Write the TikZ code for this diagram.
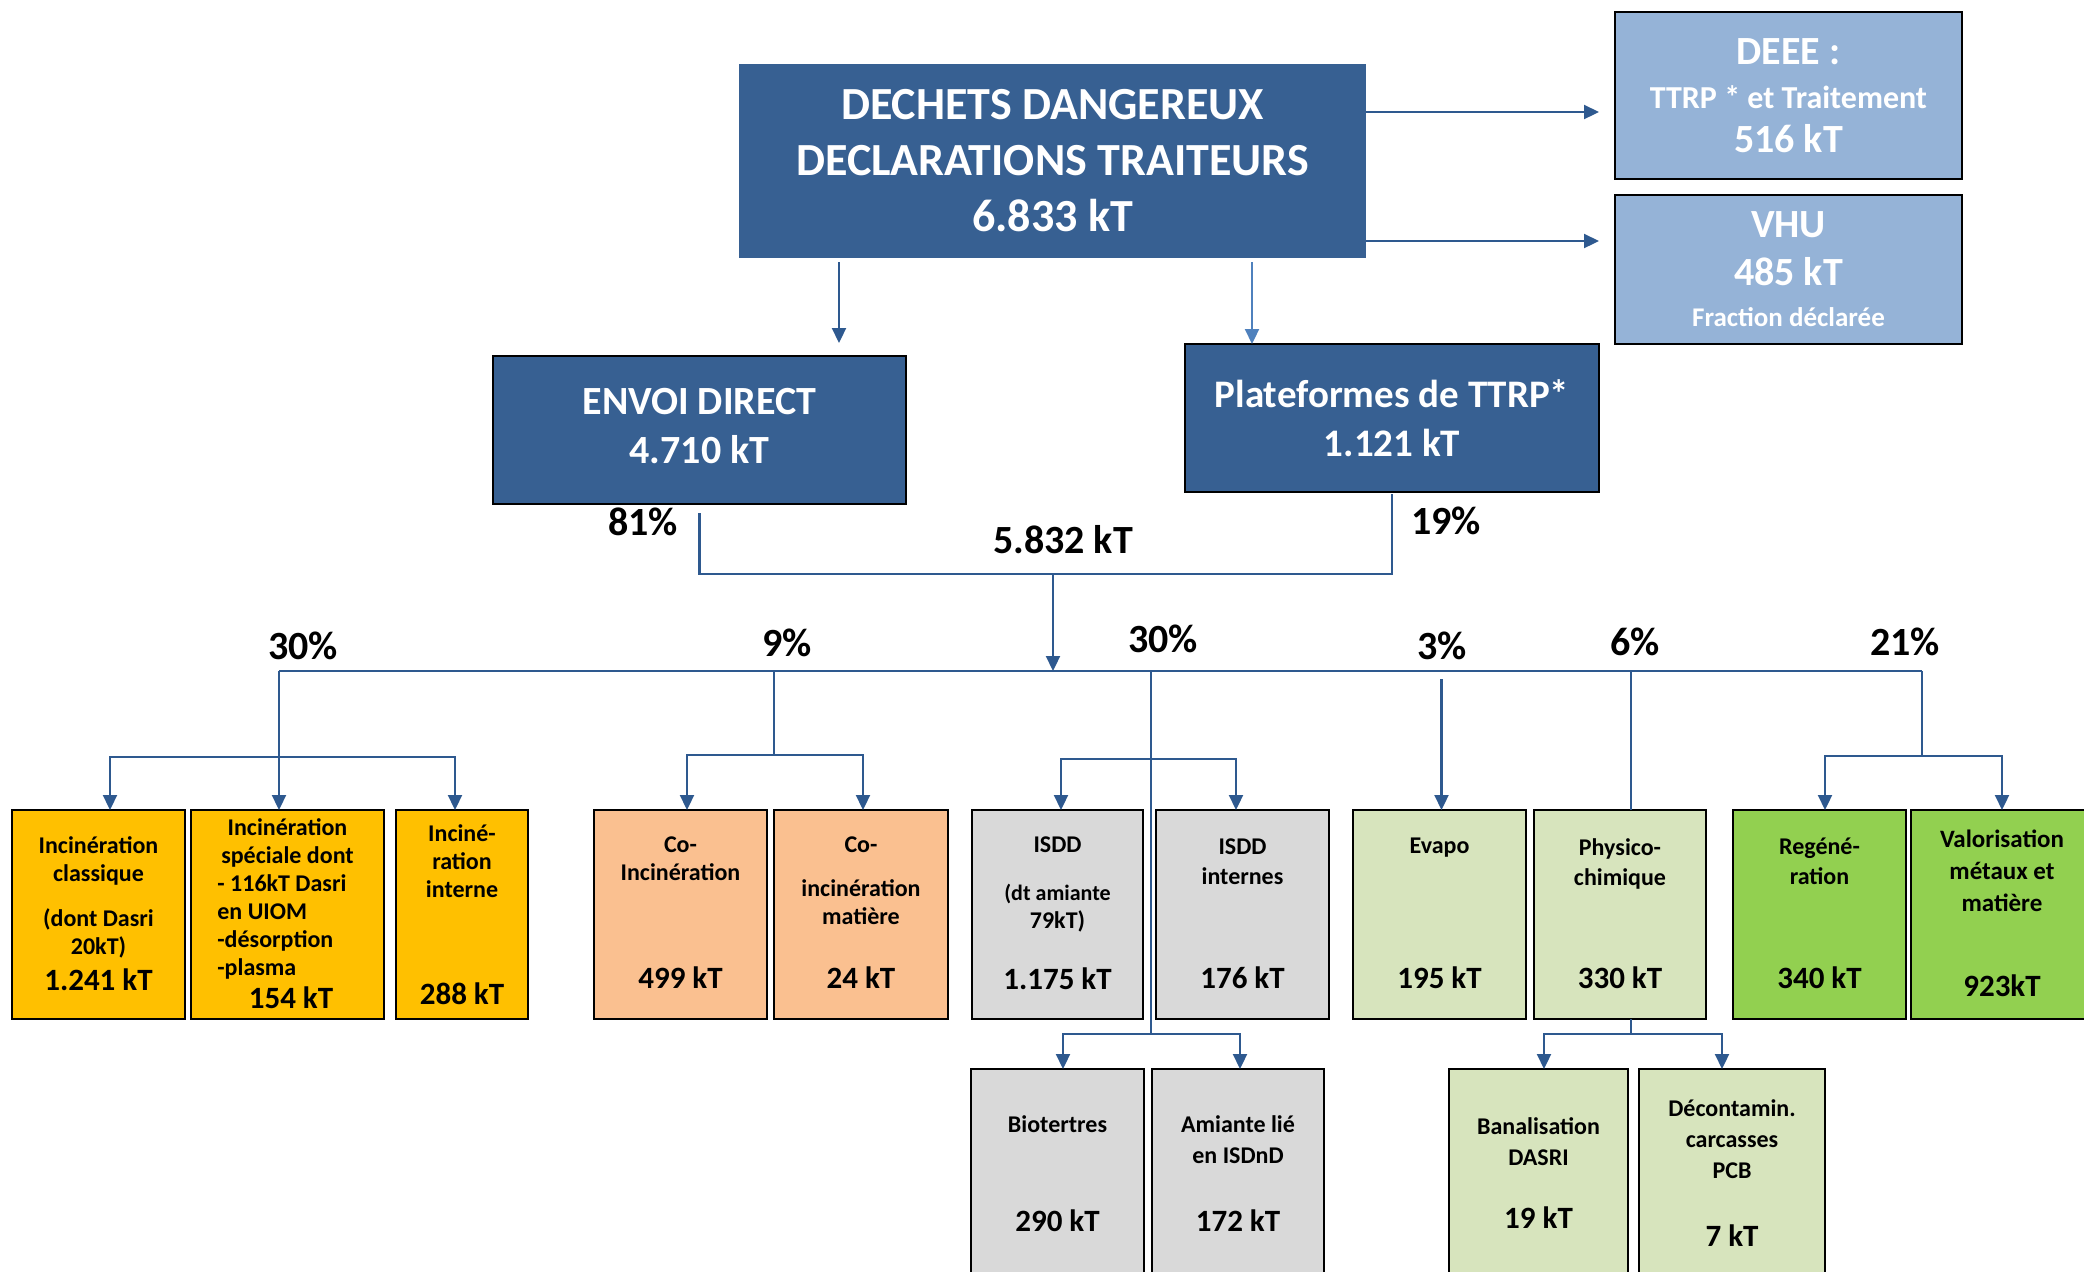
\documentclass[tikz,border=0pt]{standalone}
\usepackage{fontspec}
\setmainfont{Carlito}
\usetikzlibrary{arrows.meta,positioning}

\definecolor{dechetblue}{RGB}{55,96,146}
\definecolor{paleblue}{RGB}{149,179,215}
\definecolor{incyellow}{RGB}{255,192,0}
\definecolor{coorange}{RGB}{250,192,144}
\definecolor{isddgray}{RGB}{217,217,217}
\definecolor{physgreen}{RGB}{215,228,189}
\definecolor{valgreen}{RGB}{146,208,80}
\definecolor{flowblue}{RGB}{46,89,143}
\definecolor{flowlight}{RGB}{79,129,189}

\tikzset{
  haut/.style={fill=dechetblue, text=white, align=center, inner sep=0pt, outer sep=0pt},
  pale/.style={fill=paleblue, draw=black, line width=1.2pt, text=white, align=center, inner sep=0pt, outer sep=0pt},
  boite/.style={draw=black, line width=1.2pt, minimum height=104.5pt, inner sep=0pt, outer sep=0pt},
  basse/.style={boite, minimum height=110.5pt},
  titre/.style={font=\bfseries\fontsize{12}{14}\selectfont, align=center, inner sep=0pt, anchor=north},
  valeur/.style={font=\bfseries\fontsize{15.5}{18}\selectfont, inner sep=0pt},
  pct/.style={font=\bfseries\fontsize{20}{24}\selectfont, inner sep=0pt},
  flow/.style={draw=flowblue, line width=1.1pt, -{Triangle[width=7pt,length=7.5pt]}},
  flowl/.style={flow, draw=flowlight},
  link/.style={draw=flowblue, line width=1.1pt},
}

\begin{document}
\begin{tikzpicture}[x=0.5pt,y=-0.5pt]
  \useasboundingbox (0,0) rectangle (2084,1271);
  %top of the tree
  \node[haut, minimum width=313.5pt, minimum height=97pt, font=\bfseries\fontsize{23}{28}\selectfont] (main) at (1052.5,161) {DECHETS DANGEREUX\\DECLARATIONS TRAITEURS\\6.833 kT};
  \node[pale, minimum width=173.5pt, minimum height=83.5pt, font=\bfseries\fontsize{16}{22}\selectfont] (deee) at (1788.5,95.5) {{\fontsize{20}{22}\selectfont DEEE :}\\TTRP * et Traitement\\{\fontsize{20}{22}\selectfont 516 kT}};
  \node[pale, minimum width=173.5pt, minimum height=74.5pt, below=8pt of deee, font=\bfseries\fontsize{13.5}{20.5}\selectfont, text depth=0pt] (vhu) {{\fontsize{20}{20.5}\selectfont VHU}\\[3.5pt]{\fontsize{20}{20.5}\selectfont 485 kT}\\Fraction déclarée};
  \node[haut, draw=black, line width=1.2pt, minimum width=206.5pt, minimum height=74pt, text depth=4pt, font=\bfseries\fontsize{20}{24.5}\selectfont] (envoi) at (699.5,430) {ENVOI DIRECT\\4.710 kT};
  \node[haut, draw=black, line width=1.2pt, minimum width=207pt, minimum height=74pt, font=\bfseries\fontsize{19.5}{24.5}\selectfont] (plat) at (1392,418) {Plateformes de TTRP*\\1.121 kT};

  \draw[flow, shorten >=8pt] ([yshift=24.5pt]main.east) -- ([yshift=24.5pt]main.east -| deee.west);
  \draw[flow, shorten >=8pt] ([yshift=-40pt]main.east) -- ([yshift=-40pt]main.east -| vhu.west);
  \draw[flow, shorten <=2pt, shorten >=6.5pt] ([xshift=-106.75pt]main.south) -- ([xshift=-106.75pt]main.south |- envoi.north);
  \draw[flowl, shorten <=2pt] ([xshift=99.75pt]main.south) -- ([xshift=99.75pt]main.south |- plat.north);

  %both flows join
  \coordinate (merge) at (1053,574);
  \draw[link] ([yshift=-4.5pt]envoi.south) |- (merge) -| ([yshift=-1pt]plat.south);
  \node[pct] (p81) at (643,522) {81\%};
  \node[pct] (p19) at (1446,521) {19\%};
  \node[pct] (total) at (1063,540) {5.832 kT};

  %treatment boxes, first row
  \node[boite, fill=incyellow, minimum width=86.5pt] (icl) at (98.5,914.5) {};
  \node[boite, fill=incyellow, minimum width=96.5pt, right=3pt of icl] (isp) {};
  \node[boite, fill=incyellow, minimum width=66pt, right=6pt of isp] (iin) {};
  \node[boite, fill=coorange, minimum width=86.5pt, right=33pt of iin] (coi) {};
  \node[boite, fill=coorange, minimum width=87pt, right=3.5pt of coi] (com) {};
  \node[boite, fill=isddgray, minimum width=85.5pt, right=12pt of com] (isdd) {};
  \node[boite, fill=isddgray, minimum width=86.5pt, right=6.5pt of isdd] (isdi) {};
  \node[boite, fill=physgreen, minimum width=86.5pt, right=12pt of isdi] (eva) {};
  \node[boite, fill=physgreen, minimum width=86pt, right=4pt of eva] (phy) {};
  \node[boite, fill=valgreen, minimum width=86.5pt, right=13.5pt of phy] (reg) {};
  \node[boite, fill=valgreen, minimum width=91pt, right=2.5pt of reg] (val) {};

  %second row
  \node[basse, fill=isddgray, minimum width=86.5pt, below=25pt of isdd] (bio) {};
  \node[basse, fill=isddgray, minimum width=86pt, right=4pt of bio] (ami) {};
  \node[basse, fill=physgreen, minimum width=89.5pt] (ban) at (1538.5,1179.5) {};
  \node[basse, fill=physgreen, minimum width=93pt, right=5.5pt of ban] (dec) {};

  %texts in the boxes
  \node[titre, below=13pt of icl.north] (icl-t) {Incinération\\classique\\[8.5pt](dont Dasri\\20kT)};
  \node[valeur, above=14pt of icl.south] (icl-v) {1.241 kT};
  \node[titre, below=4pt of isp.north] (isp-t) {Incinération\\spéciale dont};
  \node[titre, anchor=north west, align=left] (isp-l) at ([xshift=13pt,yshift=-32pt]isp.north west) {- 116kT Dasri\\en UIOM\\-désorption\\-plasma};
  \node[valeur, above=5pt of isp.south, xshift=1.75pt] (isp-v) {154 kT};
  \node[titre, below=7pt of iin.north] (iin-t) {Inciné-\\ration\\interne};
  \node[valeur, above=7pt of iin.south] (iin-v) {288 kT};
  \node[titre, below=13pt of coi.north] (coi-t) {Co-\\Incinération};
  \node[valeur, above=15pt of coi.south] (coi-v) {499 kT};
  \node[titre, below=13pt of com.north] (com-t) {Co-\\[8pt]incinération\\matière};
  \node[valeur, above=15pt of com.south] (com-v) {24 kT};
  \node[titre, below=13pt of isdd.north] (isdd-t) {ISDD\\[10pt]\fontsize{11}{13}\selectfont(dt amiante\\79kT)};
  \node[valeur, above=14.5pt of isdd.south] (isdd-v) {1.175 kT};
  \node[titre, below=14pt of isdi.north, font=\bfseries\fontsize{12}{15}\selectfont] (isdi-t) {ISDD\\internes};
  \node[valeur, above=15pt of isdi.south] (isdi-v) {176 kT};
  \node[titre, below=14pt of eva.north] (eva-t) {Evapo};
  \node[valeur, above=15pt of eva.south] (eva-v) {195 kT};
  \node[titre, below=14pt of phy.north, font=\bfseries\fontsize{12}{15}\selectfont] (phy-t) {Physico-\\chimique};
  \node[valeur, above=15pt of phy.south] (phy-v) {330 kT};
  \node[titre, below=14pt of reg.north, font=\bfseries\fontsize{12}{15}\selectfont] (reg-t) {Regéné-\\ration};
  \node[valeur, above=15pt of reg.south] (reg-v) {340 kT};
  \node[titre, below=10pt of val.north, font=\bfseries\fontsize{12.5}{16}\selectfont] (val-t) {Valorisation\\métaux et\\matière};
  \node[valeur, above=11pt of val.south] (val-v) {923kT};
  \node[titre, below=23pt of bio.north] (bio-t) {Biotertres};
  \node[valeur, below=70pt of bio.north] (bio-v) {290 kT};
  \node[titre, below=23pt of ami.north, font=\bfseries\fontsize{12}{15.5}\selectfont] (ami-t) {Amiante lié\\en ISDnD};
  \node[valeur, below=70pt of ami.north] (ami-v) {172 kT};
  \node[titre, below=24pt of ban.north, font=\bfseries\fontsize{12}{15.5}\selectfont] (ban-t) {Banalisation\\DASRI};
  \node[valeur, below=68.5pt of ban.north] (ban-v) {19 kT};
  \node[titre, below=15pt of dec.north, font=\bfseries\fontsize{12}{15.5}\selectfont] (dec-t) {Décontamin.\\carcasses\\PCB};
  \node[valeur, below=77.5pt of dec.north] (dec-v) {7 kT};

  %distribution line and branches
  \coordinate (dleft) at (279,671);
  \coordinate (dright) at (1922,671);
  \draw[link] (dleft) -- (dright);
  \draw[flow] (merge) -- (merge |- dleft);
  \node[pct] (p30a) at (303,646) {30\%};
  \node[pct] (p9) at (787,643) {9\%};
  \node[pct] (p30b) at (1163,639) {30\%};
  \node[pct] (p3) at (1442,646) {3\%};
  \node[pct] (p6) at (1635,642) {6\%};
  \node[pct] (p21) at (1905,642) {21\%};

  \coordinate (b1) at (279,757);
  \draw[link] (dleft) -- (b1);
  \draw[flow] (b1) -| ([xshift=5.75pt]icl.north);
  \draw[flow] (b1) -- (b1 |- isp.north);
  \draw[flow] (b1) -| ([xshift=-3.5pt]iin.north);

  \coordinate (b2) at (774,755);
  \draw[link] (b2 |- dleft) -- (b2);
  \draw[flow] (b2) -| ([xshift=3.25pt]coi.north);
  \draw[flow] (b2) -| ([xshift=1pt]com.north);

  \coordinate (b3) at (1151,759);
  \coordinate (b3low) at (1151,1034);
  \draw[link] (b3 |- dleft) -- (b3low);
  \draw[flow] (b3) -| ([xshift=1.75pt]isdd.north);
  \draw[flow] (b3) -| ([xshift=-3.25pt]isdi.north);
  \draw[flow] (b3low) -| ([xshift=2.75pt]bio.north);
  \draw[flow] (b3low) -| ([xshift=1pt]ami.north);

  \draw[flow, shorten <=4pt] ([xshift=1pt]eva.north |- dleft) -- ([xshift=1pt]eva.north);

  \coordinate (b5) at (1631,1034);
  \draw[link] ([xshift=5.5pt]phy.north |- dleft) -- ([xshift=5.5pt]phy.north);
  \draw[link] ([xshift=5.5pt]phy.south) -- (b5);
  \draw[flow] (b5) -| ([xshift=2.75pt]ban.north);
  \draw[flow] (b5) -| ([xshift=-5pt]dec.north);

  \coordinate (b6) at (1922,756);
  \draw[link] (dright) -- (b6);
  \draw[flow] (b6) -| ([xshift=2.75pt]reg.north);
  \draw[flow] (b6) -| (val.north);
\end{tikzpicture}
\end{document}
